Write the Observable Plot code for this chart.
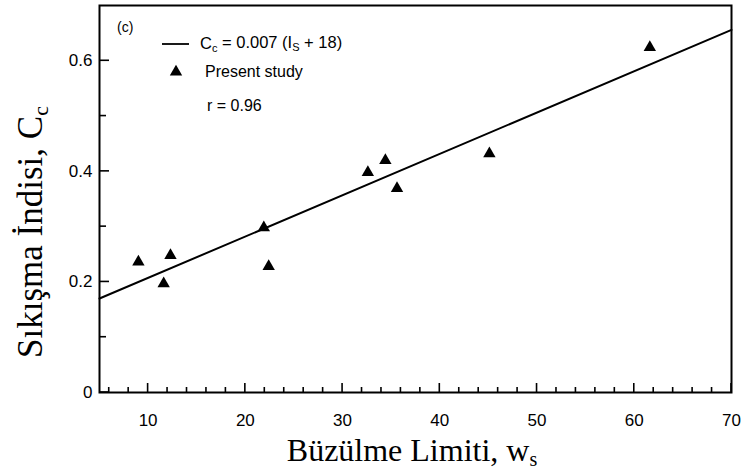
<!DOCTYPE html>
<html>
<head>
<meta charset="utf-8">
<script src="https://cdn.jsdelivr.net/npm/d3@7"></script>
<script src="https://cdn.jsdelivr.net/npm/@observablehq/plot@0.6"></script>
<style>
  html, body { margin: 0; padding: 0; background: #fff; }
  #chart svg { display: block; }
</style>
</head>
<body>
<div id="chart"></div>
<script>
// Data
const shrinkageLimit = [9.0, 11.6, 12.3, 21.9, 22.4, 32.6, 34.4, 35.6, 45.1, 61.6];
const compressionIndex = [0.236, 0.197, 0.248, 0.298, 0.228, 0.398, 0.420, 0.369, 0.432, 0.624];
const fitX = [5, 70];
const fitY = [0.170, 0.656];
const xMajorTicks = [10, 20, 30, 40, 50, 60, 70];
const xMinorTicks = [6, 8, 12, 14, 16, 18, 22, 24, 26, 28, 32, 34, 36, 38, 42, 44, 46, 48, 52, 54, 56, 58, 62, 64, 66, 68];
const yMajorTicks = [0, 0.2, 0.4, 0.6];
const yTickLabels = ["0", "0.2", "0.4", "0.6"];
const yMinorTicks = [0.1, 0.3, 0.5];
const xTitle = ["Büzülme Limiti, w", "s"];
const yTitle = ["Sıkışma İndisi, C", "c"];
const panelLabel = "(c)";
const legendLine = ["C", "c", " = 0.007 (I", "S", " + 18)"];
const legendPoints = "Present study";
const legendR = "r = 0.96";

const points = shrinkageLimit.map((x, i) => ({x, y: compressionIndex[i]}));
const fit = fitX.map((x, i) => ({x, y: fitY[i]}));

const SERIF = "'Liberation Serif', 'Times New Roman', serif";
const SANS = "'Liberation Sans', Arial, sans-serif";

const W = 747, H = 472, ML = 99, MR = 16, MT = 5, MB = 80;

const chart = Plot.plot({
  width: W,
  height: H,
  marginLeft: ML,
  marginRight: MR,
  marginTop: MT,
  marginBottom: MB,
  style: {fontFamily: SANS, fontSize: "17px", color: "black", background: "white"},
  x: {domain: [5, 70]},
  y: {domain: [0, 0.7]},
  marks: [
    Plot.axisX(xMajorTicks, {tickSize: 0, tickPadding: 21, label: null}),
    Plot.axisY(yMajorTicks, {tickSize: 0, tickPadding: 7, label: null,
      tickFormat: (d) => yTickLabels[yMajorTicks.indexOf(d)]}),
    Plot.frame({stroke: "black", strokeWidth: 2}),
    Plot.line(fit, {x: "x", y: "y", stroke: "black", strokeWidth: 2}),
    Plot.dot(points, {x: "x", y: "y", symbol: "triangle", r: 4.6, fill: "black", stroke: "none"})
  ]
});

const svg = d3.select(chart);

// Inward tick marks, positioned through the chart's own scales
const xs = chart.scale("x"), ys = chart.scale("y");
const bottom = H - MB;
const tg = svg.append("g").attr("stroke", "black").attr("stroke-width", 1.6);
for (const v of xMajorTicks) tg.append("line").attr("x1", xs.apply(v)).attr("x2", xs.apply(v)).attr("y1", bottom).attr("y2", bottom - 9);
for (const v of xMinorTicks) tg.append("line").attr("x1", xs.apply(v)).attr("x2", xs.apply(v)).attr("y1", bottom).attr("y2", bottom - 5);
for (const v of yMajorTicks) tg.append("line").attr("y1", ys.apply(v)).attr("y2", ys.apply(v)).attr("x1", ML).attr("x2", ML + 10);
for (const v of yMinorTicks) tg.append("line").attr("y1", ys.apply(v)).attr("y2", ys.apply(v)).attr("x1", ML).attr("x2", ML + 7);

function subText(g, parts, attrs, subSize) {
  const t = g.append("text");
  for (const [k, v] of Object.entries(attrs)) t.attr(k, v);
  parts.forEach((p, i) => {
    const s = t.append("tspan").text(p);
    if (i % 2 === 1) s.attr("font-size", subSize).attr("dy", "0.25em");
    else if (i > 0) s.attr("dy", "-0.2em");
  });
  return t;
}

// Axis titles
const tt = svg.append("g").attr("fill", "black");
subText(tt, xTitle, {x: 412, y: 461, "text-anchor": "middle", "font-family": SERIF, "font-size": 32}, 20);
subText(tt, yTitle, {transform: "translate(42,232) rotate(-90)", "text-anchor": "middle", "font-family": SERIF, "font-size": 35}, 22);

// Legend
const lg = svg.append("g").attr("fill", "black").attr("font-family", SANS).attr("text-anchor", "start");
lg.append("text").attr("x", 117).attr("y", 32).attr("font-size", 14).text(panelLabel);
lg.append("line").attr("x1", 162).attr("x2", 189).attr("y1", 44).attr("y2", 44)
  .attr("stroke", "black").attr("stroke-width", 1.8);
subText(lg, legendLine, {x: 200, y: 49, "font-size": 16.5}, 11);
lg.append("path").attr("d", d3.symbol(d3.symbolTriangle, 4.6 * 4.6 * Math.PI)()).attr("transform", "translate(176,72)");
lg.append("text").attr("x", 205).attr("y", 77).attr("font-size", 16).text(legendPoints);
lg.append("text").attr("x", 207).attr("y", 111).attr("font-size", 16).text(legendR);

document.getElementById("chart").append(chart);
</script>
</body>
</html>
